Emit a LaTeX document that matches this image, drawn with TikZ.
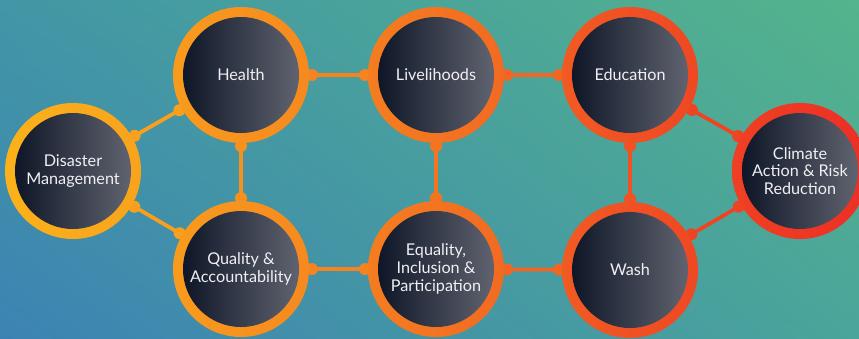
\documentclass[tikz,border=0pt]{standalone}
\usepackage{fontspec}
\setmainfont{Lato}
\usetikzlibrary{calc,shadings}
\definecolor{bgUL}{HTML}{4296A6}
\definecolor{bgLL}{HTML}{3C83B3}
\definecolor{bgUR}{HTML}{54B48C}
\definecolor{bgLR}{HTML}{4BA59A}
\definecolor{coreL}{HTML}{0E1627}
\definecolor{coreR}{HTML}{60636F}
\definecolor{txt}{HTML}{F0F0F4}
\definecolor{rA1}{HTML}{FBB21A}\definecolor{rA2}{HTML}{F8A31C}
\definecolor{rB1}{HTML}{F89B1D}\definecolor{rB2}{HTML}{F6891F}
\definecolor{rC1}{HTML}{F47D20}\definecolor{rC2}{HTML}{F26A22}
\definecolor{rD1}{HTML}{F15A23}\definecolor{rD2}{HTML}{EF4823}
\definecolor{rE1}{HTML}{EF4024}\definecolor{rE2}{HTML}{ED2F25}
\definecolor{lA}{HTML}{F8A01D}
\definecolor{lB}{HTML}{F7911E}
\definecolor{lC}{HTML}{F58420}
\definecolor{lD}{HTML}{F47420}
\definecolor{lE}{HTML}{F26522}
\definecolor{lF}{HTML}{F05224}
\definecolor{lG}{HTML}{EF4424}
\pgfdeclarelayer{back}
\pgfsetlayers{back,main}
\begin{document}
\begin{tikzpicture}[x=1pt,y=-1pt,
  ring/.style={circle, minimum size=136pt, inner sep=0pt, shade},
  core/.style={circle, minimum size=116pt, inner sep=0pt, shade, left color=coreL, right color=coreR,
    text=txt, align=center, font=\fontsize{16.2}{17.6}\selectfont},
  link/.style={line width=3.8pt},
]
\useasboundingbox (0,0) rectangle (859,338);
% rings
\node[ring, left color=rA1, right color=rA2] (dm) at (73,171) {};
\node[ring, left color=rB1, right color=rB2] (he) at (241,75) {};
\node[ring, left color=rB1, right color=rB2] (qa) at (241,269) {};
\node[ring, left color=rC1, right color=rC2] (li) at (436,75) {};
\node[ring, left color=rC1, right color=rC2] (eq) at (436,269) {};
\node[ring, left color=rD1, right color=rD2] (ed) at (630,75) {};
\node[ring, left color=rD1, right color=rD2] (wa) at (630,270) {};
\node[ring, left color=rE1, right color=rE2] (cl) at (800,171) {};
% cores
\node[core] (dmC) at (dm.center) {Disaster\\Management};
\node[core] (heC) at (he.center) {Health};
\node[core] (qaC) at (qa.center) {Quality \&\\Accountability};
\node[core] (liC) at (li.center) {Livelihoods};
\node[core] (eqC) at (eq.center) {Equality,\\Inclusion \&\\Participation};
\node[core] (edC) at (ed.center) {Education};
\node[core] (waC) at (wa.center) {Wash};
\node[core] (clC) at (cl.center) {Climate\\Action \& Risk\\Reduction};
\begin{pgfonlayer}{back}
\shade[upper left=bgUL, upper right=bgUR, lower left=bgLL, lower right=bgLR] (0,0) rectangle (859,338);
\foreach \a/\b/\c in {dm/he/lA, dm/qa/lA, he/qa/lB, he/li/lC, qa/eq/lC, li/eq/lD, li/ed/lE, eq/wa/lE, ed/wa/lF, ed/cl/lG, wa/cl/lG}{
  \draw[link, color=\c] (\a) -- (\b);
  \fill[color=\c] ($(\a.center)!71pt!(\b.center)$) circle (6pt);
  \fill[color=\c] ($(\b.center)!71pt!(\a.center)$) circle (6pt);
}
\end{pgfonlayer}
\end{tikzpicture}
\end{document}
